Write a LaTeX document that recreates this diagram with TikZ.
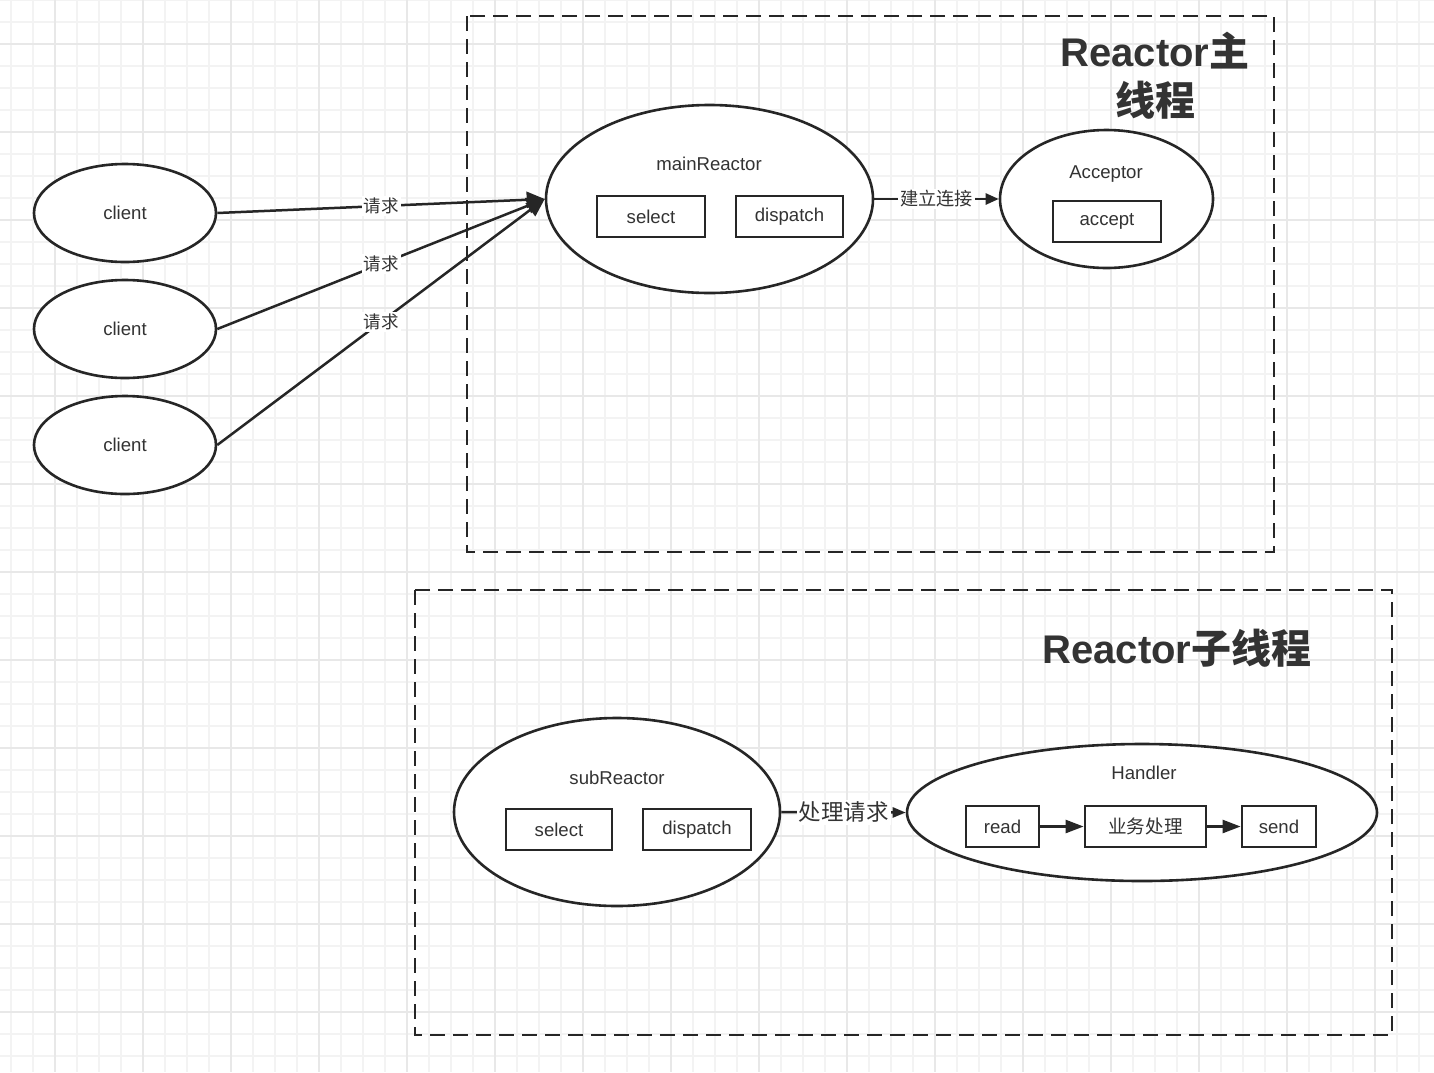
\documentclass[tikz,border=0pt]{standalone}
\usepackage{fontspec}
\setmainfont{Liberation Sans}
\newfontfamily\cjk{Noto Sans CJK SC}
\usetikzlibrary{shapes.geometric,arrows.meta}
\definecolor{txt}{HTML}{333333}
\definecolor{ln}{HTML}{262626}
\definecolor{gminor}{HTML}{F3F3F3}
\definecolor{gmajor}{HTML}{E8E8E8}
\begin{document}
\begin{tikzpicture}[x=0.5pt,y=-0.5pt,
  ell/.style={ellipse,draw=ln,line width=1.3pt,fill=white,inner sep=0pt,text=txt,font=\fontsize{9.3}{11}\selectfont},
  box/.style={rectangle,draw=ln,line width=1.4pt,fill=white,inner sep=0pt,minimum height=20.5pt,text=txt,font=\fontsize{9.3}{11}\selectfont},
  lbl/.style={text=txt,font=\fontsize{9.3}{11}\selectfont,inner sep=0pt},
  conn/.style={draw=ln,line width=1.25pt},
  elabel/.style={fill=white,text=txt,inner sep=1pt,font=\cjk\fontsize{8.75}{10}\selectfont},
  frame/.style={draw=ln,line width=1.25pt,dash pattern=on 7.5pt off 4pt},
  title/.style={text=txt,font=\fontsize{20}{24.5}\selectfont\bfseries,align=center,inner sep=0pt}
]
\useasboundingbox (0,0) rectangle (1434,1072);
\fill[white] (0,0) rectangle (1434,1072);
% grid
\foreach \x in {11,33,...,1434} \draw[gminor,line width=0.7pt] (\x,0) -- (\x,1072);
\foreach \y in {0,22,...,1072} \draw[gminor,line width=0.7pt] (0,\y) -- (1434,\y);
\foreach \x in {55,143,...,1434} \draw[gmajor,line width=0.7pt] (\x,0) -- (\x,1072);
\foreach \y in {44,132,...,1072} \draw[gmajor,line width=0.7pt] (0,\y) -- (1434,\y);

% frames
\draw[frame] (467,16) rectangle (1274,552);
\draw[frame] (415,590) rectangle (1392,1035);

% titles
\node[title] (t1) at (1155,75.5) {Reactor{\cjk 主}\\{\cjk 线程}};
\node[title] (t2) at (1177,648) {Reactor{\cjk 子线程}};

% clients
\node[ell,minimum width=91pt,minimum height=49pt] (c1) at (125,213) {client};
\node[ell,minimum width=91pt,minimum height=49pt] (c2) at (125,329) {client};
\node[ell,minimum width=91pt,minimum height=49pt] (c3) at (125,445) {client};

% main reactor
\node[ell,minimum width=163.5pt,minimum height=94pt] (main) at (709.5,199) {};
\node[lbl] (mainl) at (709,164) {mainReactor};
\node[box,minimum width=54pt] (msel) at (651,216.5) {select};
\node[box,minimum width=53.5pt] (mdis) at (789.5,216.5) {dispatch};

% acceptor
\node[ell,minimum width=106.5pt,minimum height=69pt] (acc) at (1106.5,199) {};
\node[lbl] (accl) at (1106,174) {Acceptor};
\node[box,minimum width=54pt] (acpt) at (1107,221.5) {accept};

% sub reactor
\node[ell,minimum width=163pt,minimum height=94pt] (sub) at (617,812) {};
\node[lbl] (subl) at (617,778) {subReactor};
\node[box,minimum width=53pt] (ssel) at (559,829.5) {select};
\node[box,minimum width=54pt] (sdis) at (697,829.5) {dispatch};

% handler
\node[ell,minimum width=235pt,minimum height=68.5pt] (hand) at (1142,812.5) {};
\node[lbl] (handl) at (1144,773) {Handler};
\node[box,minimum width=36.5pt] (read) at (1002.5,826.5) {read};
\node[box,minimum width=60.5pt,font=\cjk\fontsize{9.3}{11}\selectfont] (biz) at (1145.5,826.5) {业务处理};
\node[box,minimum width=37pt] (send) at (1279,826.5) {send};

% connectors
\draw[conn,-{Triangle[length=9pt,width=8pt]}] (c1.east) -- node[elabel] {请求} (main.west);
\draw[conn,-{Triangle[length=9pt,width=8pt]}] (c2.east) -- node[elabel] {请求} (main.west);
\draw[conn,-{Triangle[length=9pt,width=8pt]}] (c3.east) -- node[elabel] {请求} (main.west);
\draw[conn,-{Triangle[length=6.5pt,width=5.5pt]}] (main.east) -- node[elabel,font=\cjk\fontsize{9.1}{10}\selectfont] {建立连接} (acc.west);
\draw[conn,-{Triangle[length=6.5pt,width=5pt]}] (sub.east) -- node[elabel,font=\cjk\fontsize{11.25}{13}\selectfont] {处理请求} (hand.west);
\draw[conn,-{Triangle[length=9pt,width=6.5pt]}] (read.east) -- (biz.west);
\draw[conn,-{Triangle[length=9pt,width=6.5pt]}] (biz.east) -- (send.west);
\end{tikzpicture}
\end{document}
